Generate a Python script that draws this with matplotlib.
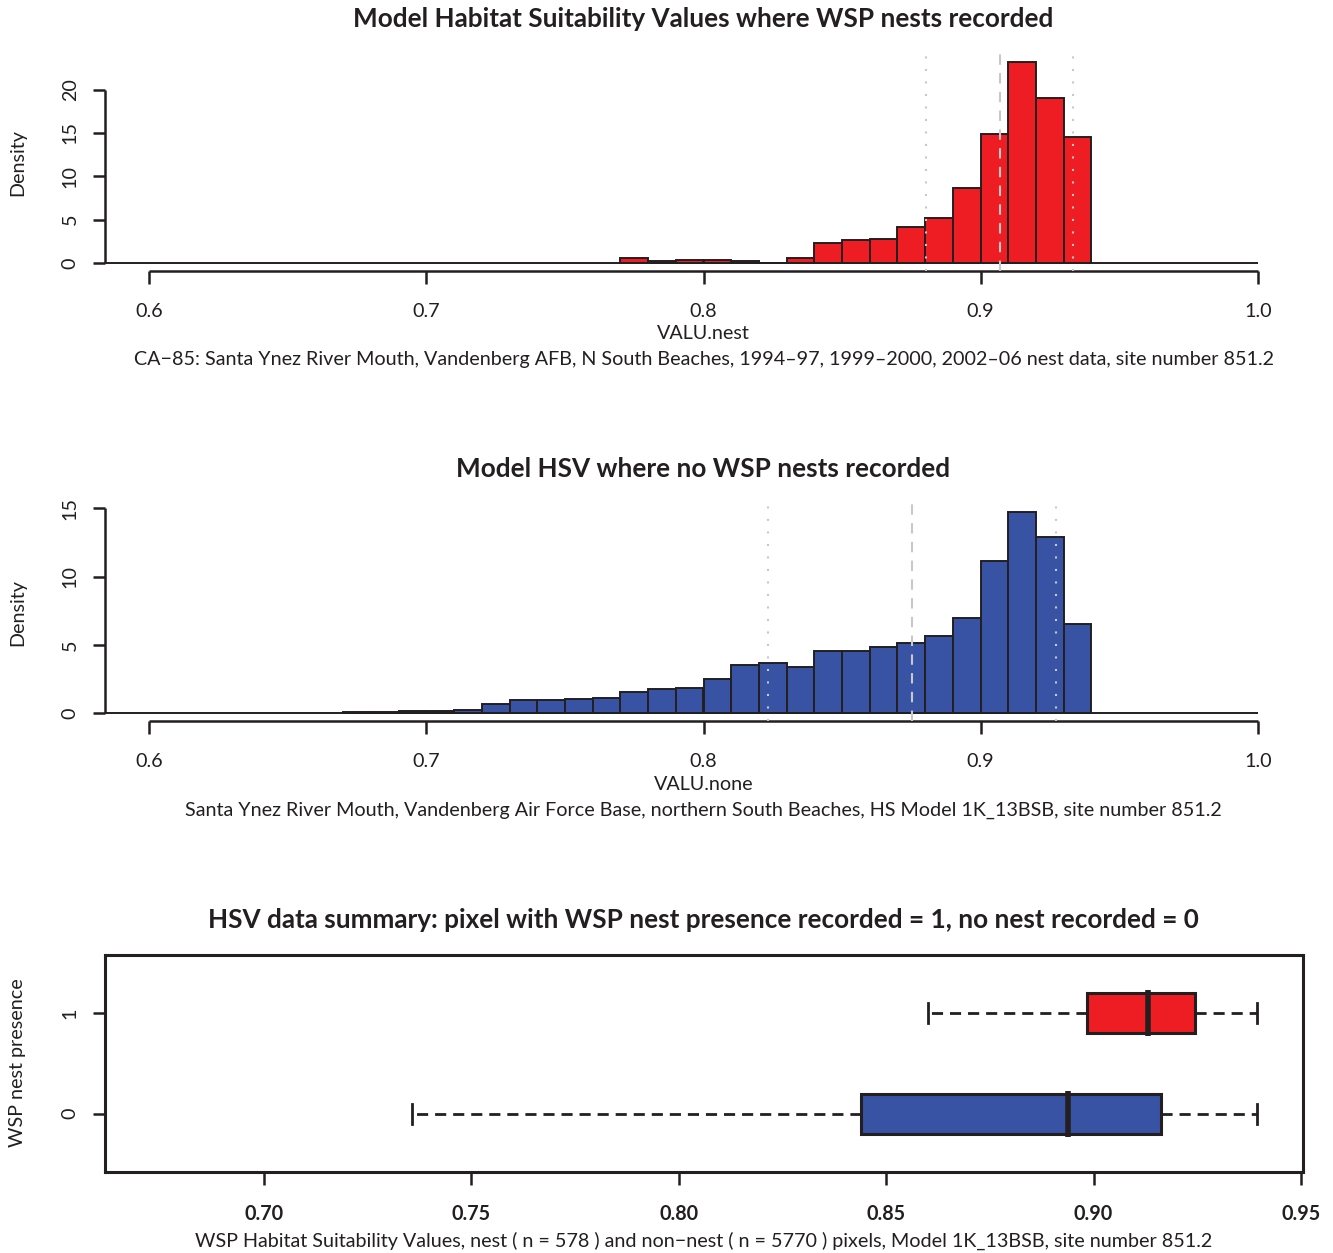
import matplotlib
matplotlib.use("Agg")
import matplotlib.pyplot as plt
import numpy as np

plt.rcParams['font.family'] = ['Lato', 'DejaVu Sans']

# ---------------- data ----------------
bin_width = 0.01
nest_bin_left = [0.77, 0.78, 0.79, 0.80, 0.81, 0.82, 0.83, 0.84, 0.85, 0.86,
                 0.87, 0.88, 0.89, 0.90, 0.91, 0.92, 0.93]
nest_density = [0.52, 0.17, 0.35, 0.35, 0.17, 0.0, 0.52, 2.25, 2.60, 2.77,
                4.15, 5.19, 8.65, 14.88, 23.18, 19.03, 14.53]
nest_lines = [0.8804, 0.9069, 0.9335]   # dotted, dashed, dotted

none_bin_left = [0.67, 0.68, 0.69, 0.70, 0.71, 0.72, 0.73, 0.74, 0.75, 0.76,
                 0.77, 0.78, 0.79, 0.80, 0.81, 0.82, 0.83, 0.84, 0.85, 0.86,
                 0.87, 0.88, 0.89, 0.90, 0.91, 0.92, 0.93]
none_density = [0.07, 0.07, 0.17, 0.12, 0.22, 0.63, 0.95, 0.98, 1.05, 1.07,
                1.51, 1.78, 1.85, 2.46, 3.49, 3.68, 3.39, 4.51, 4.54, 4.85,
                5.12, 5.61, 6.93, 11.12, 14.73, 12.90, 6.51]
none_lines = [0.8233, 0.8752, 0.9273]

hist_xticks = [0.6, 0.7, 0.8, 0.9, 1.0]
hist_xticklabels = ["0.6", "0.7", "0.8", "0.9", "1.0"]
nest_yticks = [0, 5, 10, 15, 20]
none_yticks = [0, 5, 10, 15]

box_groups = ["0", "1"]
box_whislo = [0.7356, 0.8602]
box_q1 = [0.8440, 0.8985]
box_med = [0.8939, 0.9132]
box_q3 = [0.9163, 0.9245]
box_whishi = [0.9394, 0.9394]
box_xticks = [0.70, 0.75, 0.80, 0.85, 0.90, 0.95]
box_xticklabels = ["0.70", "0.75", "0.80", "0.85", "0.90", "0.95"]

RED = "#EE1D23"
BLUE = "#3853A4"
EDGE = "#231F20"
GREY = "#C8C8C8"

TITLE_FS = 18.8
TEXT_FS = 14.2

W, H = 1333, 1253
fig = plt.figure(figsize=(W / 100, H / 100), dpi=100)


def fx(px):
    return px / W


def fy(py):
    return 1 - py / H


AX_LEFT, AX_RIGHT = 105, 1302
LW_AX = 1.8


def hist_panel(top, bottom, bin_left, dens, ymax, yticks, lines, color,
               xlabel, sub, title, title_y, xlabel_y, sub_y):
    ax = fig.add_axes([fx(AX_LEFT), fy(bottom), fx(AX_RIGHT - AX_LEFT),
                       (bottom - top) / H])
    ax.set_xlim(0.584, 1.016)
    ax.set_ylim(-0.04 * ymax, 1.04 * ymax)
    for s in ax.spines.values():
        s.set_visible(False)
    # baseline for empty bins
    ax.hlines(0, 0.5, 1.0, color=EDGE, lw=1.4, zorder=2)
    ax.bar(bin_left, dens, width=bin_width, align='edge', color=color,
           edgecolor=EDGE, linewidth=1.4, zorder=3)
    styles = [(0, (1, 5)), (0, (5, 4)), (0, (1, 5))]
    for xv, st in zip(lines, styles):
        ax.axvline(xv, color=GREY, lw=1.5, ls=st, zorder=4)
    ax.plot([0.584, 0.584], [yticks[0], yticks[-1]], color=EDGE, lw=LW_AX,
            clip_on=False, solid_capstyle='butt')
    ax.plot([0.6, 1.0], [-0.04 * ymax, -0.04 * ymax], color=EDGE, lw=LW_AX,
            clip_on=False, solid_capstyle='butt')
    ax.set_xticks(hist_xticks)
    ax.set_xticklabels(hist_xticklabels)
    ax.set_yticks(yticks)
    ax.set_yticklabels([str(v) for v in yticks], rotation=90, va='center')
    ax.tick_params(axis='both', direction='out', length=9, width=LW_AX,
                   color=EDGE, labelsize=TEXT_FS, labelcolor=EDGE)
    ax.tick_params(axis='x', pad=14)
    ax.tick_params(axis='y', pad=10)
    fig.text(fx(703.5), fy(title_y), title, ha='center', va='center',
             fontsize=TITLE_FS, fontweight='bold', color=EDGE)
    fig.text(fx(703.5), fy(xlabel_y), xlabel, ha='center', va='center',
             fontsize=TEXT_FS, color=EDGE)
    fig.text(fx(703.5), fy(sub_y), sub, ha='center', va='center',
             fontsize=TEXT_FS, color=EDGE)
    fig.text(fx(18), fy((top + bottom) / 2), "Density", ha='center',
             va='center', rotation=90, fontsize=TEXT_FS, color=EDGE)
    return ax


hist_panel(54, 271, nest_bin_left, nest_density, 23.18, nest_yticks,
           nest_lines, RED, "VALU.nest",
           "CA\u221285: Santa Ynez River Mouth, Vandenberg AFB, N South Beaches, "
           "1994\u201397, 1999\u20132000, 2002\u201306 nest data, site number 851.2",
           "Model Habitat Suitability Values where WSP nests recorded",
           19, 334, 359)

hist_panel(504, 721, none_bin_left, none_density, 14.73, none_yticks,
           none_lines, BLUE, "VALU.none",
           "Santa Ynez River Mouth, Vandenberg Air Force Base, northern South "
           "Beaches, HS Model 1K_13BSB, site number 851.2",
           "Model HSV where no WSP nests recorded",
           469, 785, 810)

# ---------------- boxplot ----------------
ax3 = fig.add_axes([fx(105), fy(1172), fx(1303 - 105), (1172 - 955) / H])
stats = []
for i in range(2):
    stats.append(dict(whislo=box_whislo[i], q1=box_q1[i], med=box_med[i],
                      q3=box_q3[i], whishi=box_whishi[i], fliers=[],
                      label=box_groups[i]))
bp = ax3.bxp(stats, positions=[1, 2], widths=0.4, vert=False,
             patch_artist=True, showfliers=False,
             boxprops=dict(linewidth=2.2, edgecolor=EDGE),
             medianprops=dict(color=EDGE, linewidth=4.0,
                              solid_capstyle='butt'),
             whiskerprops=dict(color=EDGE, linewidth=2.0,
                               linestyle=(0, (4, 2.5))),
             capprops=dict(color=EDGE, linewidth=2.0), capwidths=0.2)
for patch, c in zip(bp['boxes'], [BLUE, RED]):
    patch.set_facecolor(c)
# medians extend slightly past the box edges, as in the original
for m in bp['medians']:
    yd = m.get_ydata()
    m.set_ydata([yd[0] - 0.03, yd[1] + 0.03])
ax3.set_xlim(0.6617, 0.9505)
ax3.set_ylim(0.42, 2.58)
for s in ax3.spines.values():
    s.set_linewidth(2.2)
    s.set_color(EDGE)
ax3.set_xticks(box_xticks)
ax3.set_xticklabels(box_xticklabels, fontweight='bold')
ax3.set_yticks([1, 2])
ax3.set_yticklabels(box_groups, rotation=90, va='center')
ax3.tick_params(axis='both', direction='out', length=9, width=LW_AX,
                color=EDGE, labelsize=TEXT_FS, labelcolor=EDGE)
ax3.tick_params(axis='x', pad=14)
ax3.tick_params(axis='y', pad=10)
fig.text(fx(703.5), fy(920),
         "HSV data summary: pixel with WSP nest presence recorded = 1, no nest recorded = 0",
         ha='center', va='center', fontsize=TITLE_FS, fontweight='bold',
         color=EDGE)
fig.text(fx(703.5), fy(1241),
         "WSP Habitat Suitability Values, nest ( n = 578 ) and non\u2212nest "
         "( n = 5770 ) pixels, Model 1K_13BSB, site number 851.2",
         ha='center', va='center', fontsize=TEXT_FS, color=EDGE)
fig.text(fx(18), fy(1063), "WSP nest presence", ha='center', va='center',
         rotation=90, fontsize=TEXT_FS, color=EDGE)

fig.savefig("out.png", dpi=100)
